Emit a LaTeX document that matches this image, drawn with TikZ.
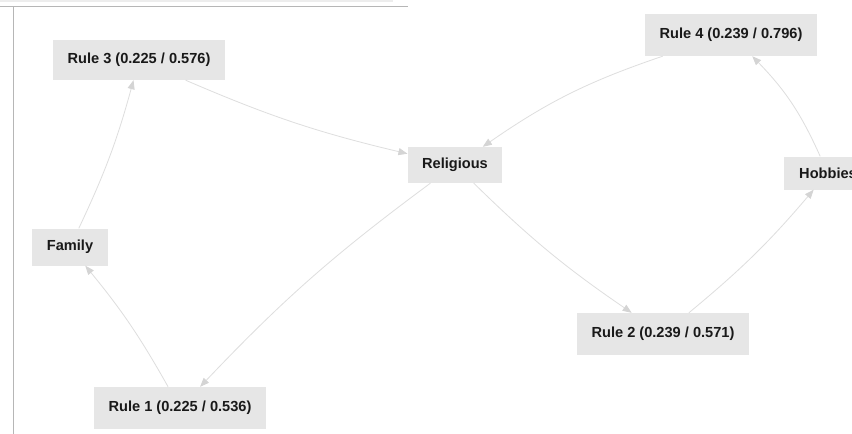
\documentclass[tikz,border=0pt]{standalone}
\usepackage{fontspec}
\setmainfont{Liberation Sans}
\usepackage{xcolor}
\usetikzlibrary{arrows.meta}
\definecolor{cellgray}{RGB}{230,230,230}
\definecolor{linkgray}{RGB}{222,222,222}
\definecolor{tipgray}{RGB}{212,212,212}
\definecolor{framegray}{RGB}{182,182,182}

\begin{document}
\begin{tikzpicture}[
  x=1pt, y=-1pt,
  cell/.style={fill=cellgray, text=black!90, font=\fontsize{14.6}{17}\selectfont\bfseries,
    inner xsep=14.5pt, inner ysep=0pt, minimum height=40pt},
  arw/.style={-{Stealth[length=9pt, width=7pt, inset=0pt, color=tipgray]}, draw=linkgray, line width=0.8pt, bend right=5}
]
\clip (0,0) rectangle (852,434);
\fill[white] (0,0) rectangle (852,434);
% page frame
\fill[black!7] (0,0) rectangle (393,2);
\draw[framegray, line width=1pt] (0,6) -- (408,6);
\draw[framegray, line width=1pt] (13,6) -- (13,434);

\node[cell] (rule3) at (139,60) {Rule 3 (0.225 / 0.576)};
\node[cell, minimum height=42pt] (rule4) at (731,35) {Rule 4 (0.239 / 0.796)};
\node[cell, minimum height=36pt] (relig) at (455,165) {Religious};
\node[cell, minimum height=33pt, inner xsep=15.5pt] (hobby) at (828,173) {Hobbies};
\node[cell, minimum height=37pt] (family) at (70,247) {Family};
\node[cell, minimum height=42pt] (rule2) at (663,334) {Rule 2 (0.239 / 0.571)};
\node[cell, minimum height=42pt] (rule1) at (180,408) {Rule 1 (0.225 / 0.536)};

\draw[arw] (family) to (rule3);
\draw[arw] (rule3) to (relig);
\draw[arw] (relig) to (rule1);
\draw[arw] (rule1) to (family);
\draw[arw] (relig) to (rule2);
\draw[arw] (rule2) to (hobby);
\draw[arw, bend right=10] (hobby) to (rule4);
\draw[arw, bend right=8] (rule4) to (relig);
\end{tikzpicture}
\end{document}
